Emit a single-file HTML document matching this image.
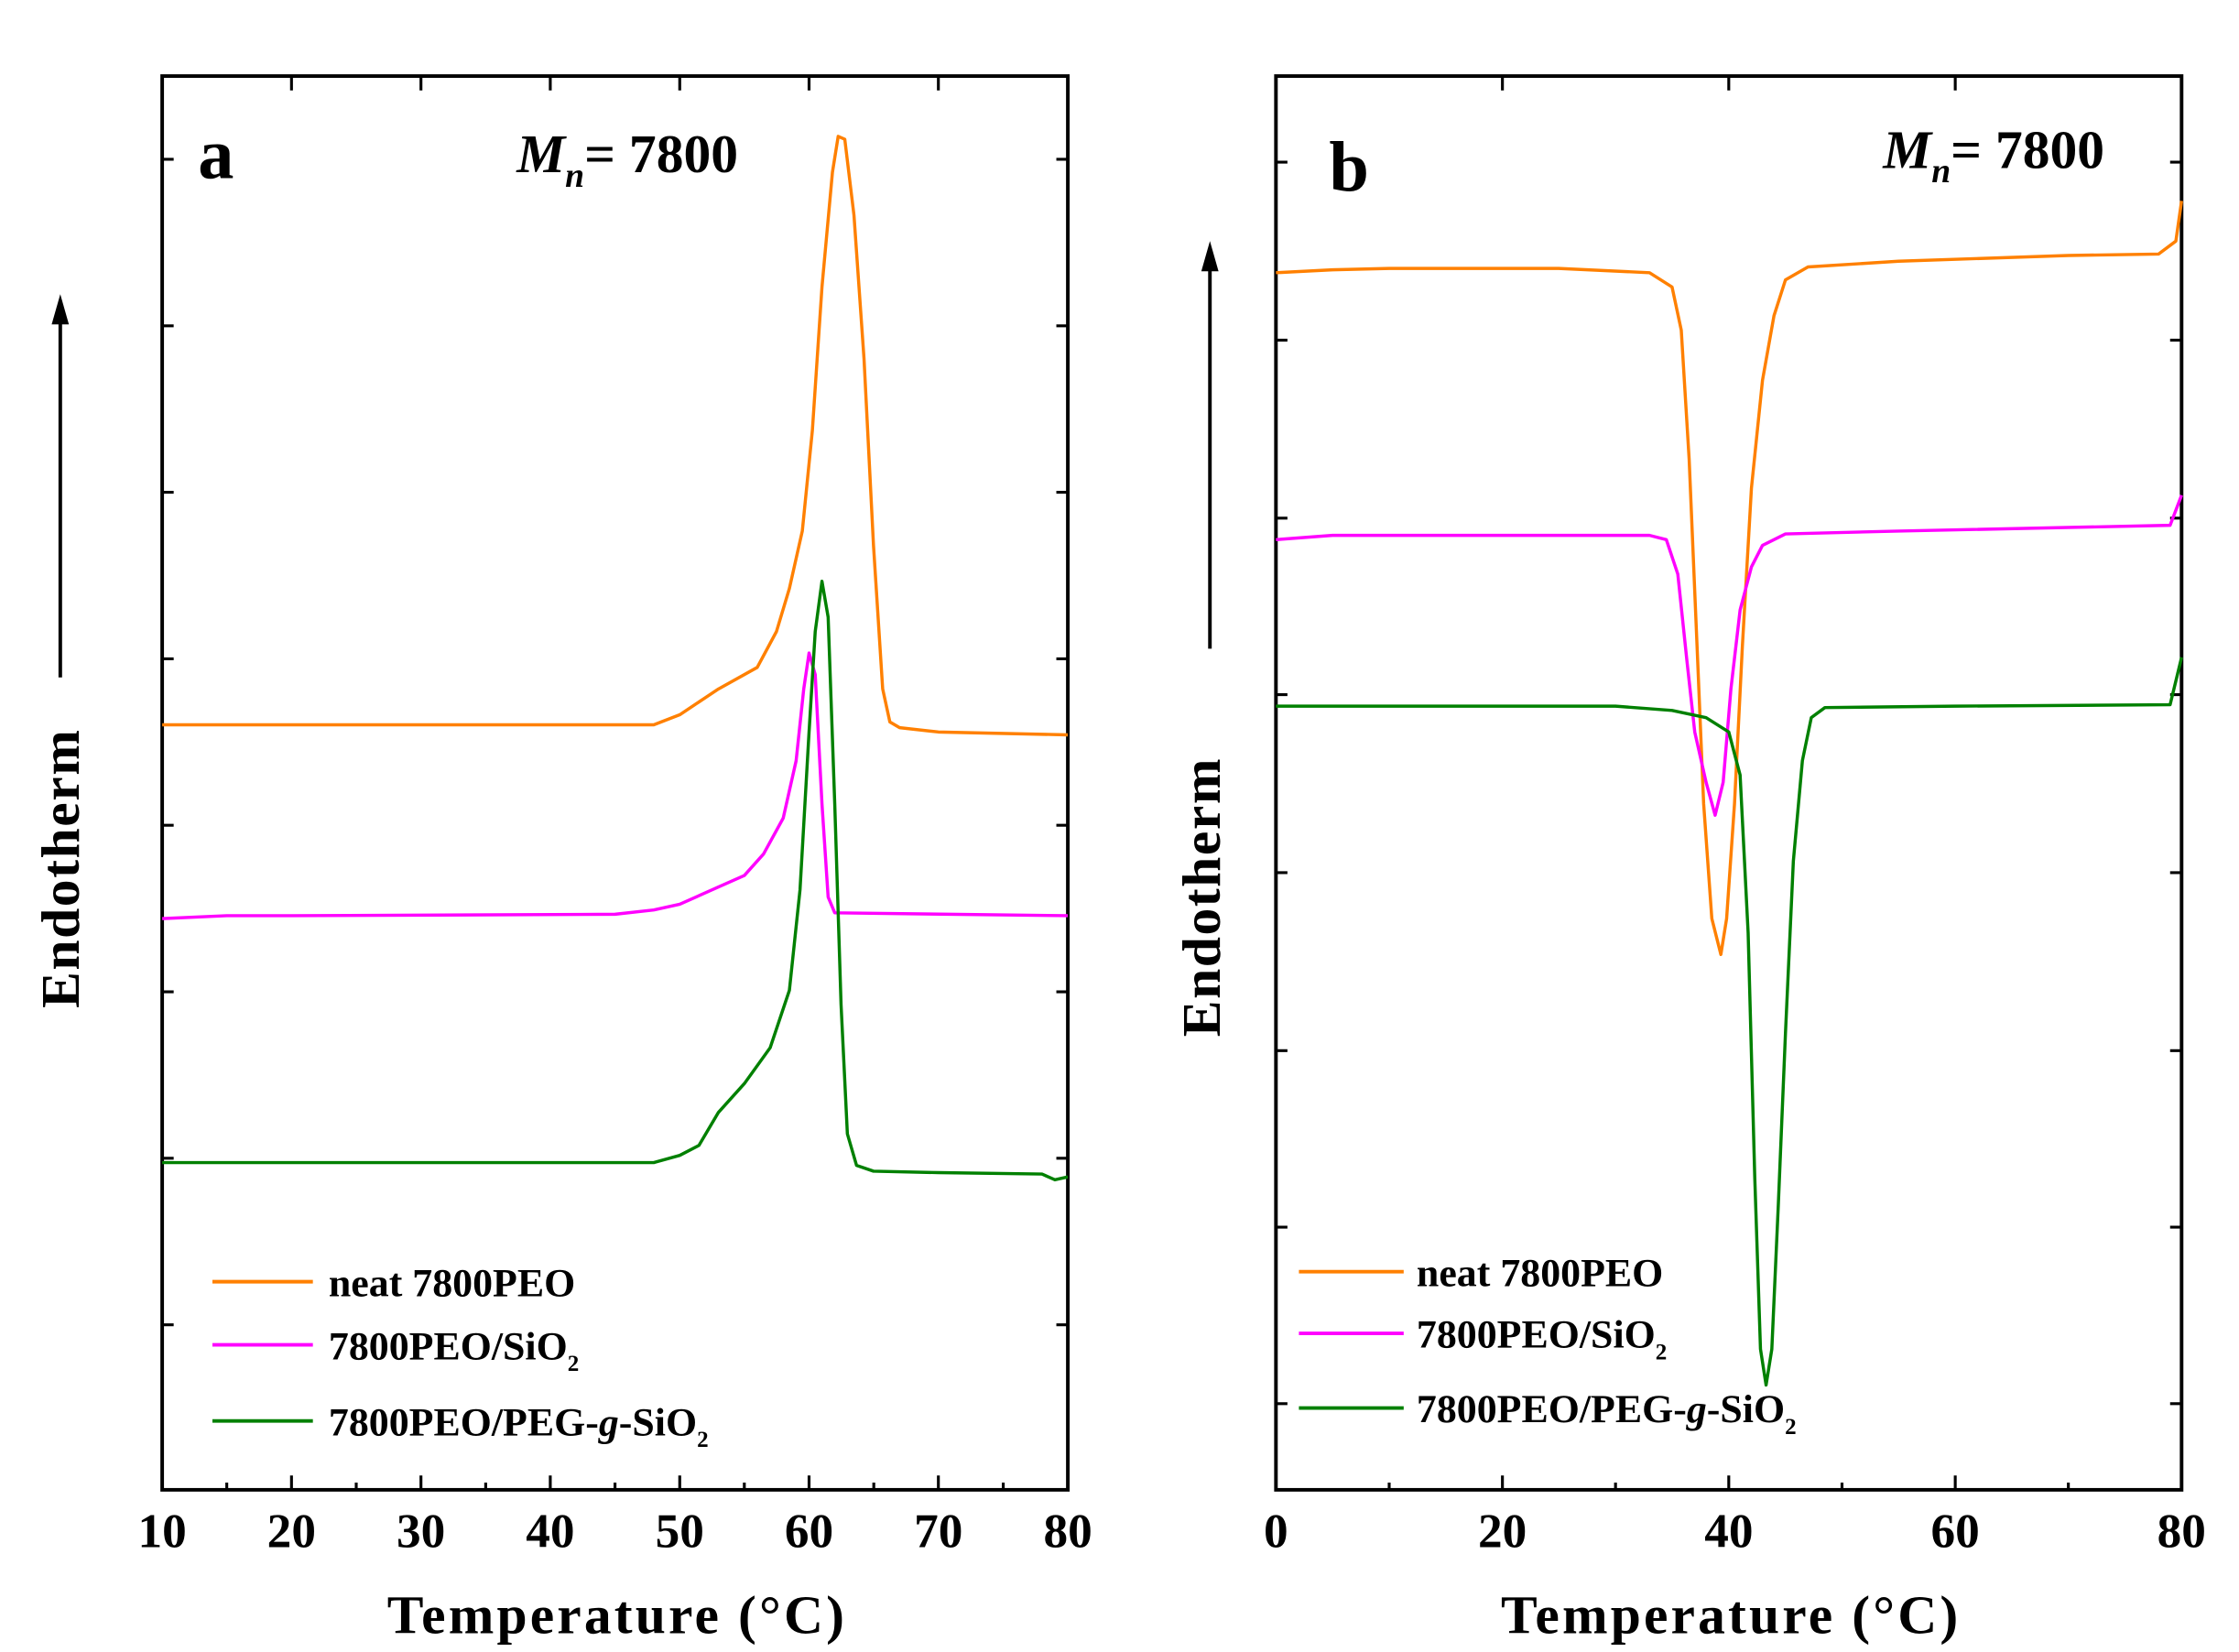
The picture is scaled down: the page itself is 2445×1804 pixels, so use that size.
<!DOCTYPE html>
<html><head><meta charset="utf-8"><style>html,body{margin:0;padding:0;background:#fff}svg{display:block}</style></head>
<body>
<svg width="2445" height="1804" viewBox="0 0 1560 1151" preserveAspectRatio="none" xmlns="http://www.w3.org/2000/svg" font-family="Liberation Serif, serif">
<rect width="1560" height="1151" fill="#fff"/>
<!-- Panel a -->
<rect x="113" y="53" width="631" height="985" fill="none" stroke="#000" stroke-width="2.5"/>
<g stroke="#000" stroke-width="2">
<path d="M113 111h8M113 227h8M113 343h8M113 459h8M113 575h8M113 691h8M113 807h8M113 923h8"/>
<path d="M744 111h-8M744 227h-8M744 343h-8M744 459h-8M744 575h-8M744 691h-8M744 807h-8M744 923h-8"/>
<path d="M203.1 1038v-10M293.3 1038v-10M383.4 1038v-10M473.6 1038v-10M563.7 1038v-10M653.8 1038v-10"/>
<path d="M158 1038v-5M248.2 1038v-5M338.4 1038v-5M428.5 1038v-5M518.6 1038v-5M608.8 1038v-5M699 1038v-5"/>
<path d="M203.1 53v10M293.3 53v10M383.4 53v10M473.6 53v10M563.7 53v10M653.8 53v10"/>
</g>
<g font-size="34" font-weight="bold" text-anchor="middle">
<text x="113" y="1078">10</text><text x="203.1" y="1078">20</text><text x="293.3" y="1078">30</text><text x="383.4" y="1078">40</text><text x="473.6" y="1078">50</text><text x="563.7" y="1078">60</text><text x="653.8" y="1078">70</text><text x="744" y="1078">80</text>
</g>
<text x="430" y="1138" font-size="38" font-weight="bold" text-anchor="middle" letter-spacing="2">Temperature (°C)</text>
<text transform="translate(55,605) rotate(-90)" font-size="38" font-weight="bold" text-anchor="middle" letter-spacing="1">Endotherm</text>
<line x1="42" y1="472" x2="42" y2="222" stroke="#000" stroke-width="2.5"/>
<polygon points="42,205 36,226 48,226" fill="#000"/>
<text x="138" y="124" font-size="50" font-weight="bold">a</text>
<text x="360" y="120" font-size="38" font-weight="bold"><tspan font-style="italic">M</tspan><tspan font-style="italic" font-size="24" dy="10">n</tspan><tspan dy="-10">= 7800</tspan></text>
<g fill="none" stroke-width="2.2" stroke-linejoin="round">
<polyline stroke="#ff8000" points="113,505 455.5,505 473.6,498 500.6,480 527.6,465 541,440 550,410 559,370 566,300 572.7,200 580,120 584,95 588.6,97 595,150 602,250 608.6,380 615,480 620,503 626.8,507 653.8,510 744,512"/>
<polyline stroke="#ff00ff" points="113,640 158,638 203,638 428.5,637 455.5,634 473.6,630 500.6,618 518.6,610 532,595 545.7,570 554.7,530 560,480 563.7,455 568,470 572.7,560 577,625 581.6,636 744,638"/>
<polyline stroke="#008000" points="113,810 455.5,810 473.6,805 487,798 500.6,775 518.6,755 536.6,730 550,690 557.4,620 563.7,510 568,440 572.7,405 577,430 581.6,560 586,700 590.4,790 596.8,812 608.6,816 653.8,817 726,818 735,822 744,820"/>
</g>
<g stroke-width="2.5"><line x1="148" y1="893" x2="218" y2="893" stroke="#ff8000"/><line x1="148" y1="937" x2="218" y2="937" stroke="#ff00ff"/><line x1="148" y1="990" x2="218" y2="990" stroke="#008000"/></g>
<g font-size="28" font-weight="bold">
<text x="229" y="903">neat 7800PEO</text>
<text x="229" y="947">7800PEO/SiO<tspan font-size="16" dy="8">2</tspan></text>
<text x="229" y="1000">7800PEO/PEG-<tspan font-style="italic">g</tspan>-SiO<tspan font-size="16" dy="8">2</tspan></text>
</g>
<!-- Panel b -->
<rect x="889" y="53" width="631" height="985" fill="none" stroke="#000" stroke-width="2.5"/>
<g stroke="#000" stroke-width="2">
<path d="M889 113h8M889 237h8M889 361h8M889 484h8M889 608h8M889 732h8M889 855h8M889 978h8"/>
<path d="M1520 113h-8M1520 237h-8M1520 361h-8M1520 484h-8M1520 608h-8M1520 732h-8M1520 855h-8M1520 978h-8"/>
<path d="M1046.8 1038v-10M1204.5 1038v-10M1362.3 1038v-10"/>
<path d="M967.9 1038v-5M1125.6 1038v-5M1283.4 1038v-5M1441.1 1038v-5"/>
<path d="M1046.8 53v10M1204.5 53v10M1362.3 53v10"/>
</g>
<g font-size="34" font-weight="bold" text-anchor="middle">
<text x="889" y="1078">0</text><text x="1046.8" y="1078">20</text><text x="1204.5" y="1078">40</text><text x="1362.3" y="1078">60</text><text x="1520" y="1078">80</text>
</g>
<text x="1206" y="1138" font-size="38" font-weight="bold" text-anchor="middle" letter-spacing="2">Temperature (°C)</text>
<text transform="translate(850,625) rotate(-90)" font-size="38" font-weight="bold" text-anchor="middle" letter-spacing="1">Endotherm</text>
<line x1="843" y1="452" x2="843" y2="185" stroke="#000" stroke-width="2.5"/>
<polygon points="843,168 837,189 849,189" fill="#000"/>
<text x="926" y="133" font-size="50" font-weight="bold">b</text>
<text x="1312" y="117" font-size="38" font-weight="bold"><tspan font-style="italic">M</tspan><tspan font-style="italic" font-size="24" dy="10">n</tspan><tspan dy="-10">= 7800</tspan></text>
<g fill="none" stroke-width="2.2" stroke-linejoin="round">
<polyline stroke="#ff8000" points="889,190 928.4,188 967.9,187 1086,187 1149.3,190 1165,200 1171.4,230 1176.9,320 1182.4,450 1187,560 1192.7,640 1199,665 1203,640 1208.5,560 1214,450 1220.3,340 1228,265 1236,220 1244,195 1259.7,186 1322.8,182 1441,178 1504,177 1516,168 1520,140"/>
<polyline stroke="#ff00ff" points="889,376 928.4,373 1149.3,373 1161,376 1169,400 1175.3,460 1180.8,510 1188.7,545 1195,568 1200.6,545 1206,480 1212.4,425 1220.3,395 1228,380 1244,372 1322.8,370 1512,366 1520,345"/>
<polyline stroke="#008000" points="889,492 1125.6,492 1165,495 1188.7,500 1204.5,510 1212.4,540 1218,650 1222.6,820 1226.6,940 1230.5,965 1234.5,940 1239,840 1244,720 1249.5,600 1255.8,530 1262,500 1271.5,493 1362,492 1512,491 1520,458"/>
</g>
<g stroke-width="2.5"><line x1="905" y1="886" x2="978" y2="886" stroke="#ff8000"/><line x1="905" y1="929" x2="978" y2="929" stroke="#ff00ff"/><line x1="905" y1="981" x2="978" y2="981" stroke="#008000"/></g>
<g font-size="28" font-weight="bold">
<text x="987" y="896">neat 7800PEO</text>
<text x="987" y="939">7800PEO/SiO<tspan font-size="16" dy="8">2</tspan></text>
<text x="987" y="991">7800PEO/PEG-<tspan font-style="italic">g</tspan>-SiO<tspan font-size="16" dy="8">2</tspan></text>
</g>
</svg>
</body></html>
